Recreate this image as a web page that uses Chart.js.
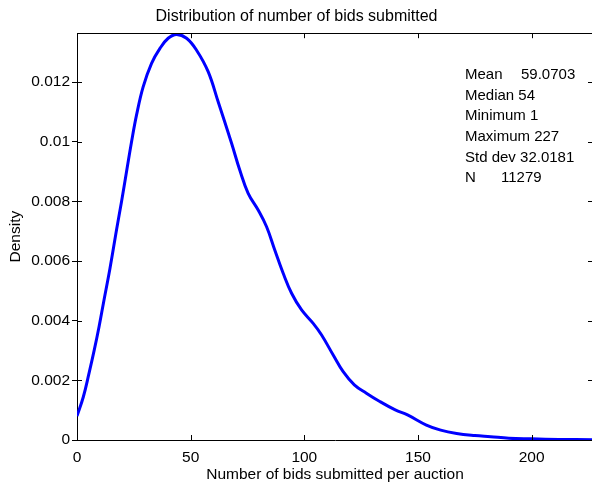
<!DOCTYPE html>
<html>
<head>
<meta charset="utf-8">
<script src="https://cdn.jsdelivr.net/npm/chart.js@4"></script>
<style>
  html, body { margin: 0; padding: 0; overflow: hidden; background: #fff; }
</style>
</head>
<body>
<canvas id="myChart" width="594" height="484"></canvas>
<script>
// Data
const bidsX = [0, 2.8, 5.3, 7.6, 9.7, 11.6, 14.5, 17.4, 19.6, 21.8, 24, 26.2, 29.1, 32.8, 36.5, 40.1, 43.8, 48.2,
    52.6, 57.7, 62.1, 68, 71.6, 75.3, 79.7, 83.4, 87, 90.7, 94.4, 98.8, 103.9, 107.6, 112.7, 117.1, 122, 127.3, 133,
    140, 145.4, 153.7, 160, 167, 175, 182, 190, 200, 212, 227];
const density = [0.0008, 0.00145, 0.00224, 0.00302, 0.0038, 0.00458, 0.00575, 0.00705, 0.008, 0.009, 0.01, 0.0109,
    0.01184, 0.01263, 0.01313, 0.01347, 0.0136, 0.01347, 0.01307, 0.01235, 0.01134, 0.00995, 0.00905, 0.00827,
    0.00771, 0.00715, 0.00637, 0.00559, 0.00492, 0.00436, 0.00391, 0.00352, 0.00285, 0.00229, 0.00185, 0.00157,
    0.0013, 0.00101, 0.00084, 0.0005, 0.00033, 0.00022, 0.00015, 0.00011, 0.00006, 0.00004, 0.00002, 0.00001];
const xTicks = [0, 50, 100, 150, 200];
const yTicks = [0, 0.002, 0.004, 0.006, 0.008, 0.01, 0.012];
const statLabels = ['Mean', 'Median', 'Minimum', 'Maximum', 'Std dev', 'N'];
const statValues = ['59.0703', '54', '1', '227', '32.0181', '11279'];

const FONT = '"Liberation Sans", Arial, Helvetica, sans-serif';

// MATLAB style box: top line, inside ticks on all sides, stats text
const matlabBox = {
    id: 'matlabBox',
    afterDraw(chart) {
        const ctx = chart.ctx;
        const a = chart.chartArea;
        const x = chart.scales.x, y = chart.scales.y;
        ctx.save();
        ctx.strokeStyle = '#000';
        ctx.lineWidth = 1;
        ctx.beginPath();
        ctx.moveTo(a.left, Math.round(a.top) + 0.5);
        ctx.lineTo(a.right, Math.round(a.top) + 0.5);
        xTicks.forEach(v => {
            const px = Math.round(x.getPixelForValue(v)) + 0.5;
            ctx.moveTo(px, a.bottom); ctx.lineTo(px, a.bottom - 5);
            ctx.moveTo(px, a.top); ctx.lineTo(px, a.top + 5);
        });
        yTicks.forEach(v => {
            const py = Math.round(y.getPixelForValue(v)) + 0.5;
            ctx.moveTo(a.left, py); ctx.lineTo(a.left + 5, py);
            ctx.moveTo(a.right, py); ctx.lineTo(a.right - 5, py);
        });
        ctx.stroke();

        // values of Mean and N sit in a padded column, the rest follow one space
        const valueX = [521, null, null, null, null, 501];
        ctx.fillStyle = '#000';
        ctx.font = '15px ' + FONT;
        ctx.textBaseline = 'middle';
        ctx.textAlign = 'left';
        statLabels.forEach((s, i) => {
            const yy = 75 + i * 20.6;
            if (valueX[i] === null) {
                ctx.fillText(s + ' ' + statValues[i], 465, yy);
            } else {
                ctx.fillText(s, 465, yy);
                ctx.fillText(statValues[i], valueX[i], yy);
            }
        });
        ctx.restore();
    }
};

const ctx = document.getElementById('myChart').getContext('2d');
const chart = new Chart(ctx, {
    type: 'line',
    data: {
        datasets: [{
            data: bidsX.map((v, i) => ({ x: v, y: density[i] })),
            borderColor: '#0000ff',
            borderWidth: 3,
            pointRadius: 0,
            fill: false,
            tension: 0.4
        }]
    },
    options: {
        responsive: false,
        animation: false,
        layout: { padding: { left: 0, right: 1, top: 0, bottom: 0 } },
        plugins: {
            legend: { display: false },
            tooltip: { enabled: false },
            title: {
                display: true,
                text: 'Distribution of number of bids submitted',
                color: '#000',
                font: { family: FONT, size: 16, weight: 'normal' },
                padding: { top: 7, bottom: 7 }
            }
        },
        scales: {
            x: {
                type: 'linear',
                min: 0,
                max: 227,
                afterFit: s => { s.height = 44; },
                grid: { display: false, drawTicks: false },
                border: { display: true, color: '#000', width: 1 },
                ticks: {
                    stepSize: 50,
                    includeBounds: false,
                    color: '#000',
                    padding: 8,
                    maxRotation: 0,
                    font: { family: FONT, size: 15.5 }
                },
                title: {
                    display: true,
                    text: 'Number of bids submitted per auction',
                    color: '#000',
                    font: { family: FONT, size: 15.5 },
                    padding: { top: 0, bottom: 0 }
                }
            },
            y: {
                min: 0,
                max: 0.01364,
                afterFit: s => { s.width = 77; },
                grid: { drawOnChartArea: false, drawTicks: true, tickLength: 5, color: '#000' },
                border: { display: true, color: '#000', width: 1 },
                ticks: {
                    stepSize: 0.002,
                    includeBounds: false,
                    color: '#000',
                    padding: 2,
                    font: { family: FONT, size: 15.5 },
                    callback: v => String(Math.round(v * 1000) / 1000)
                },
                title: {
                    display: true,
                    text: 'Density',
                    color: '#000',
                    font: { family: FONT, size: 15.5 },
                    padding: { top: 6, bottom: 0 }
                }
            }
        }
    },
    plugins: [matlabBox]
});
</script>
</body>
</html>
